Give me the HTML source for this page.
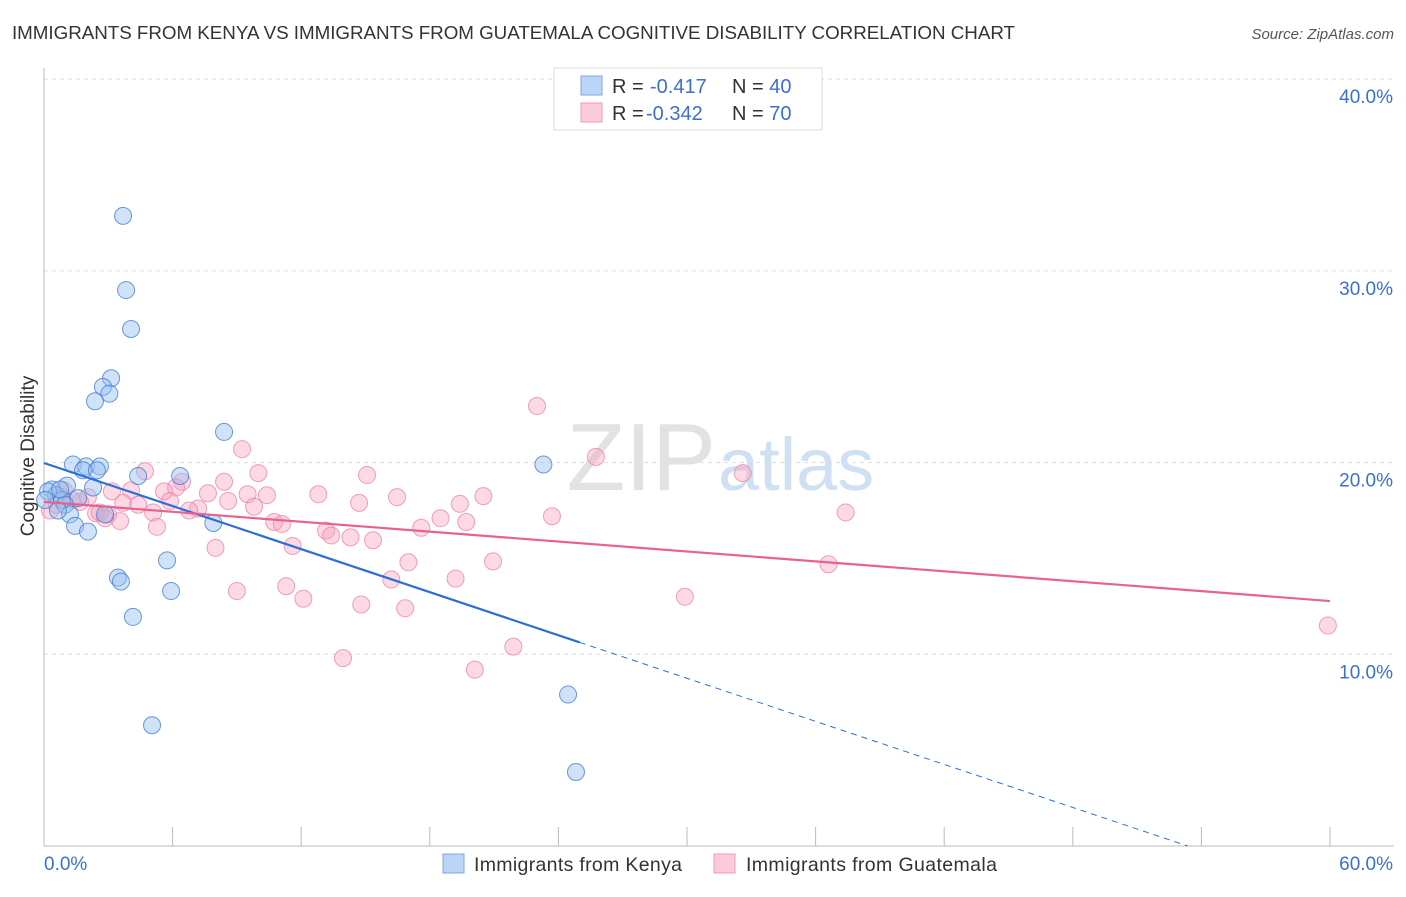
<!DOCTYPE html>
<html><head><meta charset="utf-8"><style>
body{margin:0;background:#fff;font-family:"Liberation Sans",sans-serif;}
svg text{font-family:"Liberation Sans",sans-serif;}
</style></head><body>
<svg id="chart" width="1406" height="892" viewBox="0 0 1406 892">
<text x="12" y="39" font-size="18.8" fill="#333" textLength="1003">IMMIGRANTS FROM KENYA VS IMMIGRANTS FROM GUATEMALA COGNITIVE DISABILITY CORRELATION CHART</text>
<text x="1394" y="39" font-size="15" fill="#555" font-style="italic" text-anchor="end">Source: ZipAtlas.com</text>
<g id="grid"></g>
<text x="716" y="490" font-size="96" fill="#e2e2e2" font-family="Liberation Serif" text-anchor="end">ZIP</text>
<text x="718" y="490" font-size="74" fill="#cfe0f3">atlas</text>
<g id="axes"></g>
<g id="points"></g>
<g id="lines"></g>
<text transform="translate(34,456) rotate(-90)" font-size="19" fill="#333" text-anchor="middle">Cognitive Disability</text>
<g>
<rect x="554" y="68" width="268" height="62" fill="#fff" stroke="#ddd"/>
<rect x="581" y="76" width="21" height="19" fill="#bcd4f5" stroke="#7aa7e6"/>
<rect x="581" y="103" width="21" height="19" fill="#fbcadb" stroke="#ef9ab8"/>
<text x="612" y="93" font-size="20" fill="#333">R = <tspan x="650" fill="#3b6fd0">-0.417</tspan><tspan x="732">N = </tspan><tspan fill="#3b6fd0">40</tspan></text>
<text x="612" y="120" font-size="20" fill="#333">R = <tspan x="646" fill="#3b6fd0">-0.342</tspan><tspan x="732">N = </tspan><tspan fill="#3b6fd0">70</tspan></text>
</g>
<g><rect x="443" y="854" width="21" height="19" fill="#bcd4f5" stroke="#7aa7e6"/><text x="474" y="871" font-size="19.5" fill="#333" textLength="208">Immigrants from Kenya</text></g>
<g><rect x="714" y="854" width="21" height="19" fill="#fbcadb" stroke="#ef9ab8"/><text x="746" y="871" font-size="19.5" fill="#333" textLength="251">Immigrants from Guatemala</text></g>
</svg>
<script>
const yTicks=[10,20,30,40];
const yTickLabels=["10.0%","20.0%","30.0%","40.0%"];
const xTickCount=10;
const kenyaX=[3.69,3.83,4.06,3.13,2.75,3.05,2.38,8.4,23.3,1.35,1.96,2.61,1.82,2.47,6.35,4.39,2.29,1.07,0.37,0.56,0.84,1.59,0.98,1.21,1.45,2.05,2.85,7.9,5.74,3.45,3.59,5.93,4.15,5.04,24.45,24.82,0.19,0.75,0.65,0.05];
const kenyaY=[32.87,29.0,26.97,24.4,23.95,23.6,23.2,21.6,19.9,19.9,19.8,19.8,19.6,19.6,19.3,19.3,18.7,18.8,18.6,18.3,18.05,18.15,17.8,17.3,16.7,16.4,17.3,16.85,14.9,14.0,13.8,13.3,11.95,6.3,7.9,3.86,18.5,18.6,17.5,18.05];
const guatX=[23.0,9.24,25.75,32.6,4.71,10.0,15.07,6.44,8.4,6.16,5.6,3.17,4.06,7.65,9.5,10.4,12.8,16.47,20.5,5.88,8.59,1.68,3.69,4.39,14.7,19.4,7.19,9.8,6.77,2.43,5.09,2.99,37.4,23.7,18.5,10.74,11.1,3.55,19.7,5.27,17.6,13.16,13.4,14.3,15.35,11.6,8.0,17.0,20.95,36.6,16.2,19.2,11.3,9.0,29.9,12.1,14.8,16.85,59.9,21.9,13.95,20.1,0.28,0.84,1.3,2.05,2.6,0.6,2.85,0.93];
const guatY=[22.95,20.7,20.3,19.45,19.55,19.45,19.35,19.0,19.0,18.7,18.5,18.5,18.55,18.4,18.35,18.3,18.35,18.2,18.25,18.0,18.0,17.95,17.9,17.8,17.9,17.85,17.6,17.7,17.5,17.35,17.4,17.3,17.4,17.2,17.1,16.9,16.8,16.95,16.9,16.65,16.6,16.45,16.2,16.1,15.95,15.65,15.55,14.8,14.85,14.7,13.9,13.95,13.55,13.3,13.0,12.9,12.6,12.4,11.5,10.4,9.8,9.2,17.5,18.2,18.05,18.2,17.4,17.8,17.1,18.55];
const kenyaTrend=[19.98,-0.3744];
const guatTrend=[17.95,-0.0862];
const NS="http://www.w3.org/2000/svg";
const X0=44,X1=1330,Y0=846,YPER=19.17;
function sx(v){return X0+(v/60)*(X1-X0);}
function sy(v){return Y0-v*YPER;}
function mk(tag,attrs,parent){const e=document.createElementNS(NS,tag);for(const k in attrs)e.setAttribute(k,attrs[k]);document.getElementById(parent).appendChild(e);return e;}
yTicks.forEach((t,i)=>{
 const l=mk('line',{x1:44,x2:1394,y1:sy(t),y2:sy(t),stroke:'#ddd','stroke-dasharray':'4,4'},'grid');
 
 
 const tx=mk('text',{x:1393,y:sy(t)+24,'font-size':19,fill:'#3b6fd0','text-anchor':'end'},'axes');
 tx.textContent=yTickLabels[i];
 
 
});
let ax=mk('line',{x1:44,x2:44,y1:68,y2:846,stroke:'#bbb'},'axes');


ax=mk('line',{x1:44,x2:1394,y1:846,y2:846,stroke:'#bbb'},'axes');


for(let i=0;i<=xTickCount;i++){
 const x=sx(i*60/xTickCount);
 const t=mk('line',{x1:x,x2:x,y1:827,y2:846,stroke:'#bbb'},'axes');
 
 
}
let xl=mk('text',{x:44,y:870,'font-size':19,fill:'#3b6fd0'},'axes');xl.textContent='0.0%';


xl=mk('text',{x:1393,y:870,'font-size':19,fill:'#3b6fd0','text-anchor':'end'},'axes');xl.textContent='60.0%';


guatX.forEach((v,i)=>{
 const c=mk('circle',{cx:sx(v),cy:sy(guatY[i]),r:8.5,fill:'rgba(247,160,190,0.4)',stroke:'rgba(235,130,165,0.75)','stroke-width':1},'points');
 
 
});
kenyaX.forEach((v,i)=>{
 const c=mk('circle',{cx:sx(v),cy:sy(kenyaY[i]),r:8.5,fill:'rgba(150,190,240,0.45)',stroke:'rgba(60,120,210,0.75)','stroke-width':1},'points');
 
 
});
let l=mk('line',{x1:sx(0),y1:sy(kenyaTrend[0]),x2:sx(25),y2:sy(kenyaTrend[0]+kenyaTrend[1]*25),stroke:'#2a6fd6','stroke-width':2.2},'lines');


const xEnd=-kenyaTrend[0]/kenyaTrend[1];
l=mk('line',{x1:sx(25),y1:sy(kenyaTrend[0]+kenyaTrend[1]*25),x2:sx(xEnd),y2:sy(0),stroke:'#2a6fd6','stroke-width':1,'stroke-dasharray':'6,5'},'lines');


l=mk('line',{x1:sx(0),y1:sy(guatTrend[0]),x2:sx(60),y2:sy(guatTrend[0]+guatTrend[1]*60),stroke:'#e8628f','stroke-width':2.2},'lines');


</script>
</body></html>
